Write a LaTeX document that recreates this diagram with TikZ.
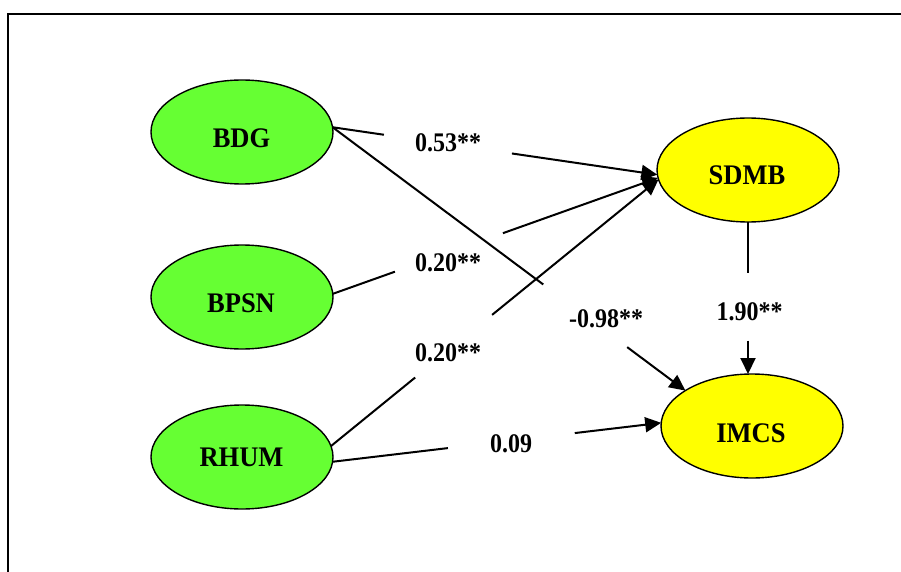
\documentclass[tikz,border=0pt]{standalone}
\usepackage{fontspec}
\setmainfont{Liberation Serif}
\usepackage{graphicx}
\usetikzlibrary{arrows.meta,calc,shapes.geometric}
\definecolor{lvgreen}{HTML}{66FF33}
\definecolor{lvyellow}{HTML}{FFFF00}
% bold labels set slightly taller than wide
\newcommand{\tallnum}[1]{\scalebox{1}[1.12]{#1}}
\newcommand{\tallname}[1]{\scalebox{1}[1.07]{#1}}
\begin{document}
\begin{tikzpicture}[x=1pt,y=-1pt,
  latent/.style={ellipse, draw=black, line width=1.4pt, minimum width=182pt,
    minimum height=104pt, inner sep=0pt, outer sep=0pt},
  exo/.style={latent, fill=lvgreen},
  endo/.style={latent, fill=lvyellow},
  vname/.style={anchor=base, inner sep=0pt, font=\fontsize{26.5}{30}\selectfont\bfseries},
  coef/.style={anchor=base, inner sep=0pt, font=\fontsize{24}{28}\selectfont\bfseries},
  link/.style={line width=2pt},
  arr/.style={link, -{Triangle[length=16pt,width=15pt]}}]

\useasboundingbox (0,0) rectangle (901,572);
\fill[white] (0,0) rectangle (901,572);
% frame
\draw[line width=1.8pt] (8,572) -- (8,14) -- (901,14);

% latent variables
\node[exo]  (bdg)  at (242,132) {};
\node[exo]  (bpsn) at (242,297) {};
\node[exo]  (rhum) at (242,457) {};
\node[endo] (sdmb) at (748,170) {};
\node[endo] (imcs) at (752,426) {};

\node[vname] (bdgt)  at (241.5,148) {\tallname{BDG}};
\node[vname] (bpsnt) at (241,312)   {\tallname{BPSN}};
\node[vname] (rhumt) at (241.5,466) {\tallname{RHUM}};
\node[vname] (sdmbt) at (747,185)   {\tallname{SDMB}};
\node[vname] (imcst) at (751,442)   {\tallname{IMCS}};

% end points of the paths
\coordinate (s1) at (bdg.3);   \coordinate (e1) at (sdmb.183);
\coordinate (s2) at (bdg.3);   \coordinate (e2) at (imcs.152);
\coordinate (s3) at (bpsn.2);  \coordinate (e3) at (sdmb.185);
\coordinate (s4) at (rhum.7);  \coordinate (e4) at (sdmb.186);
\coordinate (s5) at (rhum.-3); \coordinate (e5) at (imcs.178);
\coordinate (s6) at (sdmb.south); \coordinate (e6) at (sdmb.south |- imcs.north);

% paths, each broken where its coefficient sits
\draw[link] (s1) -- ($(s1)!0.158!(e1)$);
\draw[arr]  ($(s1)!0.552!(e1)$) -- (e1);

\draw[link] (s2) -- ($(s2)!0.597!(e2)$);
\draw[arr]  ($(s2)!0.835!(e2)$) -- (e2);

\draw[link] (s3) -- ($(s3)!0.191!(e3)$);
\draw[arr]  ($(s3)!0.523!(e3)$) -- (e3);

\draw[link] (s4) -- ($(s4)!0.257!(e4)$);
\draw[arr]  ($(s4)!0.492!(e4)$) -- (e4);

\draw[link] (s5) -- ($(s5)!0.351!(e5)$);
\draw[arr]  ($(s5)!0.737!(e5)$) -- (e5);

\draw[link] (s6) -- ($(s6)!0.338!(e6)$);
\draw[arr]  ($(s6)!0.781!(e6)$) -- (e6);

% path coefficients
\node[coef] (c1) at (448,152) {\tallnum{0.53**}};
\node[coef] (c2) at (606,327) {\tallnum{-0.98**}};
\node[coef] (c3) at (448,271) {\tallnum{0.20**}};
\node[coef] (c4) at (448,361) {\tallnum{0.20**}};
\node[coef] (c5) at (511,452) {\tallnum{0.09}};
\node[coef] (c6) at (749.5,320) {\tallnum{1.90**}};
\end{tikzpicture}
\end{document}
